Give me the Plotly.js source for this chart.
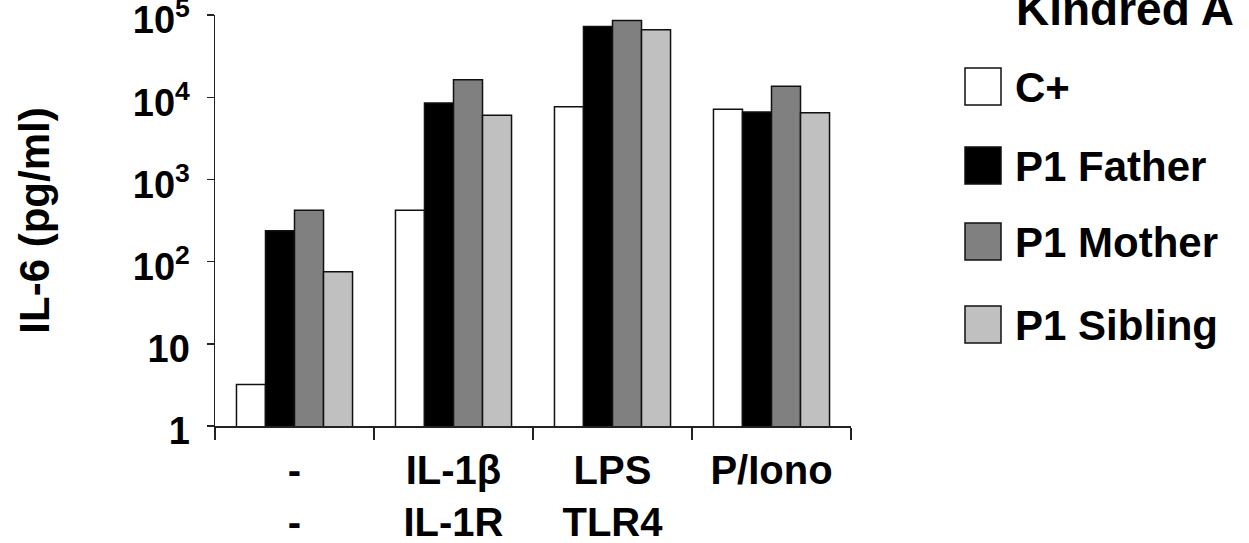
<!DOCTYPE html>
<html>
<head>
<meta charset="utf-8">
<script src="https://cdn.plot.ly/plotly-3.0.1.min.js"></script>
<style>html,body{margin:0;padding:0;background:#fff;}#chart{width:1249px;height:543px;}</style>
</head>
<body>
<div id="chart"></div>
<script>
// ---- data ----
const categories = ["-<br>-", "IL-1β<br>IL-1R", "LPS<br>TLR4", "P/Iono"];
const seriesNames = ["C+", "P1 Father", "P1 Mother", "P1 Sibling"];
const cPlus     = [3.2, 421, 7660, 7130];
const p1Father  = [238, 8500, 72800, 6610];
const p1Mother  = [421, 16300, 86200, 13580];
const p1Sibling = [75, 6030, 66200, 6480];
const tickVals  = [1, 10, 100, 1000, 10000, 100000];
const tickText  = ["1", "10", "10<sup>2</sup>", "10<sup>3</sup>", "10<sup>4</sup>", "10<sup>5</sup>"];
const legendTitle = "Kindred A";
const yTitle = "IL-6 (pg/ml)";

// ---- style ----
const colors = ["#ffffff", "#000000", "#808080", "#c0c0c0"];
const FONT = "Liberation Sans, Arial, Helvetica, sans-serif";
const W = 1249, H = 543;
const L = 215, R = 851, T = 15, B = 426;
const px2x = p => (p - L) / (R - L);
const px2y = p => (B - p) / (B - T);

const allValues = [cPlus, p1Father, p1Mother, p1Sibling];
const traces = allValues.map((vals, i) => ({
  type: "bar",
  name: seriesNames[i],
  x: categories,
  y: vals,
  marker: {color: colors[i], line: {color: "#111", width: 1.5}},
  showlegend: false,
  hoverinfo: "x+y+name"
}));

// manual legend (large boxes like reference)
const boxTops = [68, 147, 223, 306];
const boxH = 37;
const shapes = [];
const annotations = [];
seriesNames.forEach((n, i) => {
  shapes.push({
    type: "rect", xref: "paper", yref: "paper",
    x0: px2x(965), x1: px2x(1001),
    y0: px2y(boxTops[i] + boxH), y1: px2y(boxTops[i]),
    fillcolor: colors[i], line: {color: "#111", width: 1.5}
  });
  annotations.push({
    xref: "paper", yref: "paper", x: px2x(1013), y: px2y(boxTops[i] + boxH / 2 + 1),
    xanchor: "left", yanchor: "middle", showarrow: false, text: n,
    font: {family: FONT, size: 42, color: "#000", weight: "bold"}
  });
});
annotations.push({
  xref: "paper", yref: "paper", x: px2x(1014), y: px2y(9),
  xanchor: "left", yanchor: "middle", showarrow: false, text: legendTitle,
  font: {family: FONT, size: 46, color: "#000", weight: "bold"}
});

const layout = {
  width: W, height: H,
  margin: {l: L, r: W - R, t: T, b: H - B, pad: 0},
  paper_bgcolor: "#fff", plot_bgcolor: "#fff",
  barmode: "group", bargap: 0.27, bargroupgap: 0,
  showlegend: false,
  font: {family: FONT, color: "#000", weight: "bold"},
  xaxis: {
    type: "category",
    tickson: "boundaries", ticks: "outside", ticklen: 12, tickwidth: 1.5, tickcolor: "#222",
    showline: true, linecolor: "#222", linewidth: 1.5,
    showgrid: false, zeroline: false,
    tickfont: {family: FONT, size: 40, color: "#000", weight: "bold"},
    ticklabelstandoff: 8,
    automargin: false
  },
  yaxis: {
    type: "log", range: [-0.001, 5.001],
    tickmode: "array", tickvals: tickVals, ticktext: tickText,
    ticks: "outside", ticklen: 7, tickwidth: 1.5, tickcolor: "#222",
    showline: true, linecolor: "#222", linewidth: 1.5,
    showgrid: false, zeroline: false,
    tickfont: {family: FONT, size: 38, color: "#000", weight: "bold"},
    ticklabelstandoff: 9,
    ticklabelshift: 5,
    ticklabeloverflow: "allow",
    title: {text: yTitle, font: {family: FONT, size: 42, color: "#000", weight: "bold"}, standoff: 70},
    automargin: false
  },
  shapes: shapes,
  annotations: annotations
};

Plotly.newPlot("chart", traces, layout, {displayModeBar: false, staticPlot: true});
</script>
</body>
</html>
